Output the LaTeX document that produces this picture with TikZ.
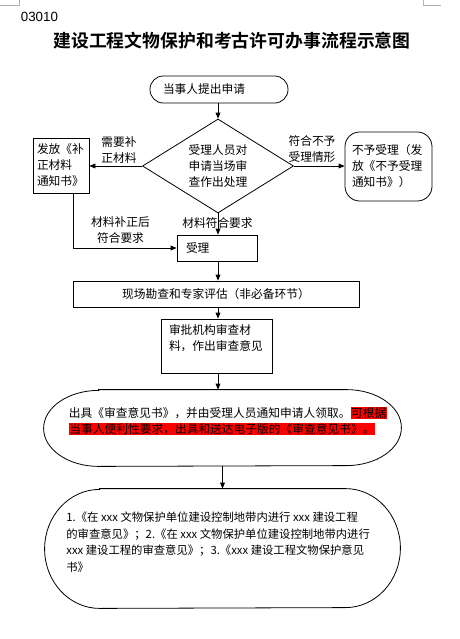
\documentclass[tikz,border=0pt]{standalone}
\usepackage{fontspec}
\setmainfont{Noto Sans CJK SC}[BoldFont={Noto Sans CJK SC Bold}]
\newfontfamily\latinf{Liberation Sans}
\usetikzlibrary{arrows.meta,shapes.geometric}
\begin{document}
\begin{tikzpicture}[x=0.75pt,y=-0.75pt,
  font=\fontsize{8.8pt}{12pt}\selectfont,
  line width=0.6pt,
  box/.style={draw, rectangle, inner ysep=0pt},
  lbl/.style={align=center, inner sep=0pt},
  arr/.style={-{Triangle[length=4.5pt,width=3.6pt]}},
  cornermark/.style={draw=gray!60, line width=0.5pt}]
\fill[white] (0,0) rectangle (460,639);
\useasboundingbox (0,0) rectangle (460,639);
% page corner marks
\draw[cornermark] (0,5) -- (19,5) -- (19,0);
\draw[cornermark] (423,0) -- (423,5) -- (441,5);
% header
\node[font=\latinf\fontsize{10pt}{12pt}\selectfont, anchor=west, inner sep=0pt] (code) at (20.5,17) {03010};
\node[font=\fontsize{13.4pt}{16pt}\selectfont\bfseries] (title) at (232,41) {建设工程文物保护和考古许可办事流程示意图};
% nodes
\node[box, rounded corners=10pt, minimum width=103.5pt, minimum height=20.25pt, text width=84pt, inner xsep=9.75pt, align=left] (start) at (219,89.5) {当事人提出申请};
\node[draw, diamond, aspect=1.6, inner sep=0pt, minimum width=113.25pt, minimum height=70.5pt, align=center] (dia) at (218,166) {受理人员对\\申请当场审\\查作出处理};
\node[box, minimum width=42pt, minimum height=41.25pt, text width=36pt, inner xsep=3pt, align=left] (fafang) at (61,165.5) {发放《补\\正材料\\通知书》};
\node[box, rounded corners=11pt, minimum width=65.25pt, minimum height=51.75pt, text width=54.75pt, inner xsep=5.25pt, align=left] (bsl) at (388.5,166.5) {不予受理（发\\放《不予受理\\通知书》）};
\node[box, minimum width=60pt, minimum height=19.5pt, text width=46.5pt, inner xsep=6.75pt, align=left] (shouli) at (217,248) {受理};
\node[box, minimum width=214.5pt, minimum height=19.5pt, align=center] (xc) at (216,294) {现场勘查和专家评估（非必备环节）};
\node[box, minimum width=83.25pt, minimum height=40.5pt, text width=71.25pt, inner xsep=6pt, align=left] (sp) at (216.5,346) {审批机构审查材\\料，作出审查意见\\\mbox{}};
% stadium 1
\node[minimum width=267.75pt, minimum height=57pt, inner sep=0pt] (s1) at (222.5,428) {};
\draw ([xshift=41.25pt]s1.north west) -- ([xshift=-41.25pt]s1.north east)
  arc[start angle=90, end angle=-90, x radius=41.25pt, y radius=28.5pt]
  -- ([xshift=41.25pt]s1.south west)
  arc[start angle=270, end angle=90, x radius=41.25pt, y radius=28.5pt] -- cycle;
\fboxsep=0.4pt
\node[anchor=west, align=left, inner sep=0pt] (s1t) at (68.5,421) {出具《审查意见书》，并由受理人员通知申请人领取。\colorbox{red}{可根据}\\\colorbox{red}{当事人便利性要求，出具和送达电子版的《审查意见书》。}};
% stadium 2
\node[minimum width=266.25pt, minimum height=89.25pt, inner sep=0pt] (s2) at (222.5,548.5) {};
\draw ([xshift=41.25pt]s2.north west) -- ([xshift=-41.25pt]s2.north east)
  arc[start angle=90, end angle=-90, x radius=41.25pt, y radius=44.625pt]
  -- ([xshift=41.25pt]s2.south west)
  arc[start angle=270, end angle=90, x radius=41.25pt, y radius=44.625pt] -- cycle;
\node[anchor=west, align=left, inner sep=0pt, font=\fontsize{8.5pt}{12.4pt}\selectfont] (s2t) at (66,542) {1.《在 xxx 文物保护单位建设控制地带内进行 xxx 建设工程\\的审查意见》；2.《在 xxx 文物保护单位建设控制地带内进行\\xxx 建设工程的审查意见》；3.《xxx 建设工程文物保护意见\\书》};
% labels
\node[lbl] (l1) at (119,150.5) {需要补\\正材料};
\node[lbl] (l2) at (312,149.5) {符合不予\\受理情形};
\node[lbl] (l3) at (217.5,223) {材料符合要求};
\node[lbl] (l4) at (120.5,230.5) {材料补正后\\符合要求};
% connectors
\draw[arr] (dia.north |- start.south) -- (dia.north);
\draw[arr] (dia.west) -- (dia.west -| fafang.east);
\draw[arr] (dia.east) -- (dia.east -| bsl.west);
\draw[arr] (dia.south) -- (dia.south |- shouli.north);
\draw[arr] ([xshift=9pt]fafang.south) |- (shouli.west);
\draw[arr] (dia.south |- shouli.south) -- (dia.south |- xc.north);
\draw[arr] (dia.south |- xc.south) -- (dia.south |- sp.north);
\draw[arr] (dia.south |- sp.south) -- (dia.south |- s1.north);
\draw[arr] (s1.south) -- (s2.north);
\end{tikzpicture}
\end{document}
